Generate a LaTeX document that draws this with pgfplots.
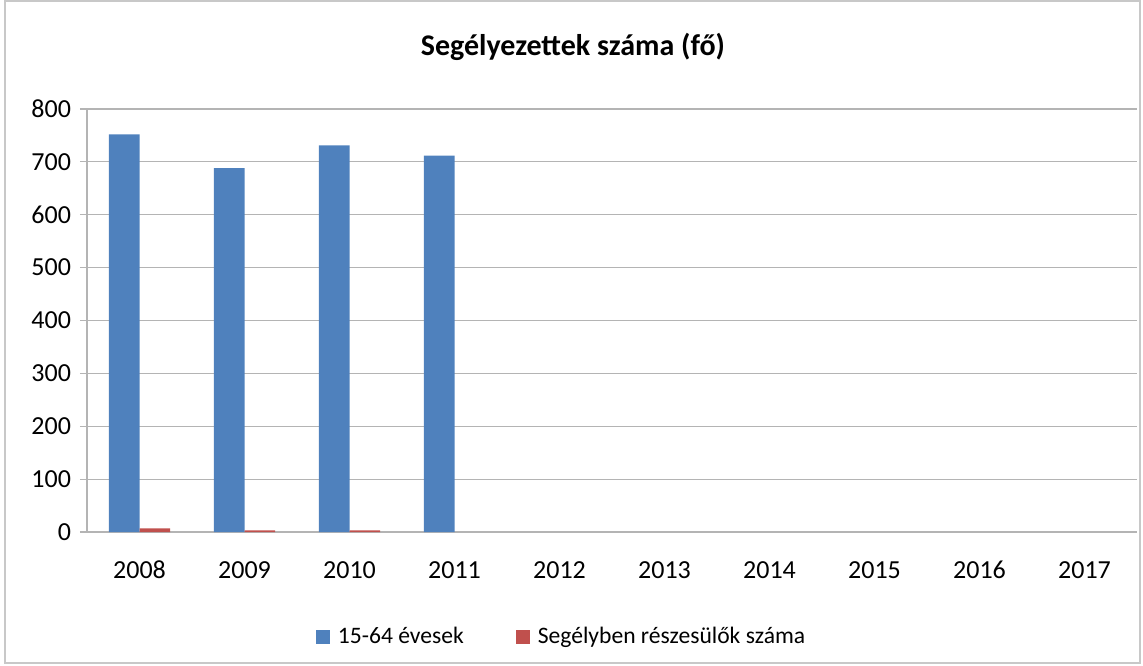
\documentclass[border=0pt]{standalone}
\usepackage{fontspec}
\setmainfont{Carlito}
\usepackage{pgfplots}
\pgfplotsset{compat=1.18}
\definecolor{barblue}{HTML}{4F81BD}
\definecolor{barred}{HTML}{C0504D}
\definecolor{gridgray}{RGB}{180,180,180}
\definecolor{framegray}{RGB}{200,200,200}

\begin{document}
\begin{tikzpicture}
% page = 1143x665 px at 0.5pt per px; origin = axis corner (87,532)
\path[use as bounding box] (-43.5pt,-66.5pt) rectangle (528pt,266pt);
\draw[framegray,line width=0.6pt] (-41pt,-65.5pt) rectangle (526.5pt,265.5pt);
\begin{axis}[
  at={(0,0)},anchor=south west,
  scale only axis,
  width=525pt,height=211.5pt,
  ybar=0pt,bar width=15.35pt,
  xmin=-0.5,xmax=9.5,ymin=0,ymax=800,
  xtick={0,...,9},
  xticklabels={2008,2009,2010,2011,2012,2013,2014,2015,2016,2017},
  major x tick style={draw=none},
  extra x ticks={-0.5,0.5,...,9.5},
  extra x tick labels={},
  extra x tick style={major tick length=3pt,tick style={gridgray,line width=0.6pt},grid=none},
  ytick={0,100,...,800},
  ymajorgrids,grid style={gridgray,line width=0.6pt},
  axis x line*=bottom,axis y line*=left,
  axis line style={gridgray,line width=0.7pt,-},
  tick align=outside,
  major tick length=3.5pt,
  tick style={gridgray,line width=0.6pt},
  /pgf/number format/assume math mode=true,
  tick label style={font=\fontsize{13}{15}\selectfont,black},
  xticklabel style={anchor=north,text height=9pt,text depth=0pt,yshift=-7pt},
  yticklabel style={xshift=-1pt},
  legend style={draw=none,at={(0.4529,-0.248)},anchor=center,
    legend columns=2,font=\fontsize{11.8}{13}\selectfont,
    /tikz/every even column/.append style={column sep=24pt}},
  legend image code/.code={\fill[#1] (0pt,-3.5pt) rectangle (7pt,3.5pt);},
]
\addplot[fill=barblue,draw=none] coordinates {(0,752)(1,688)(2,731)(3,712)};
\addlegendentry{\hspace{2pt}15-64 évesek}
\addplot[fill=barred,draw=none] coordinates {(0,7)(1,3)(2,3)};
\addlegendentry{\hspace{2pt}Segélyben részesülők száma}
\end{axis}
\node[font=\bfseries\fontsize{15}{17}\selectfont] at (243pt,242.5pt) {Segélyezettek száma (fő)};
\end{tikzpicture}
\end{document}
